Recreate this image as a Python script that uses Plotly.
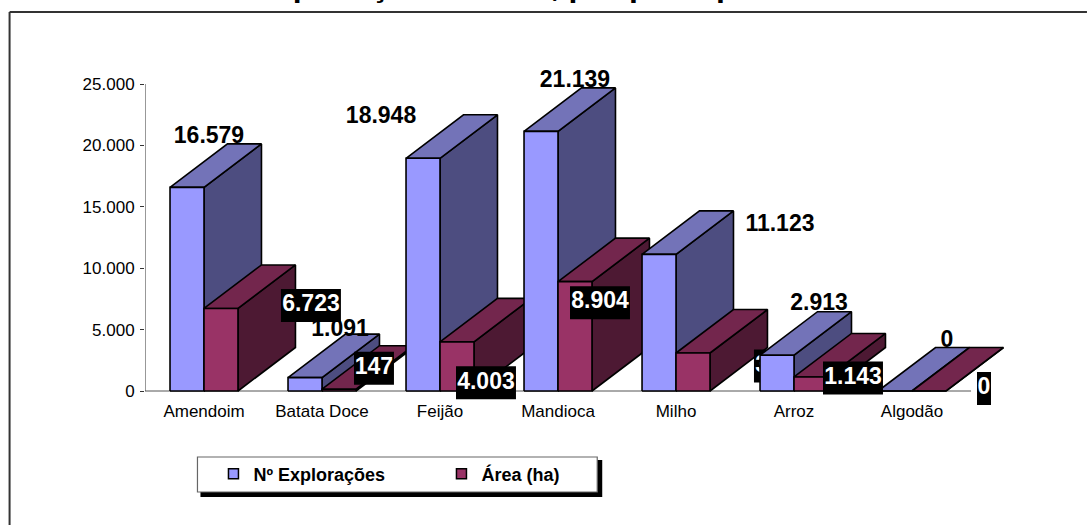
import plotly.graph_objects as go

# ---- data ----
categories = ["Amendoim", "Batata Doce", "Feijão", "Mandioca", "Milho", "Arroz", "Algodão"]
exploracoes = [16579, 1091, 18948, 21139, 11123, 2913, 0]
area_ha = [6723, 147, 4003, 8904, 3094, 1143, 0]
exploracoes_labels = ["16.579", "1.091", "18.948", "21.139", "11.123", "2.913", "0"]
area_labels = ["6.723", "147", "4.003", "8.904", "3.094", "1.143", "0"]
y_ticks = [0, 5000, 10000, 15000, 20000, 25000]
y_tick_labels = ["0", "5.000", "10.000", "15.000", "20.000", "25.000"]
series_names = ["Nº Explorações", "Área (ha)"]
title_text = "Nº Explorações e Área, por principais culturas"

# ---- layout in pixels ----
W, H = 1087, 525
AX_L, AX_R, AX_T, AX_B = 144.5, 971, 84, 391        # the visible axes
PL, PR, PT, PB = 144.5, 1015, 70, 412               # the plotting area holding every mark
X0, X1, Y0, Y1 = -0.5, 6.5, 0, 25000
PX_X = (X1 - X0) / (AX_R - AX_L)   # data units per pixel
PX_Y = (Y1 - Y0) / (AX_B - AX_T)
XMIN, XMAX = X0, X0 + (PR - PL) * PX_X
YMIN, YMAX = Y0 - (PB - AX_B) * PX_Y, Y1 + (AX_T - PT) * PX_Y

BAR_W = 34 * PX_X
DEPTH_X = 57.5 * PX_X
DEPTH_Y = 43.5 * PX_Y
OUT = "#000000"
COL_1 = dict(front="#9999FF", top="#7373B8", side="#4D4D80")
COL_2 = dict(front="#993366", top="#73264D", side="#4D1933")

# label offsets from the category centre and bar top (pixels: right, up)
OFF_1 = [(5, 50), (18, 47), (-59, 41), (17, 50), (104, 29), (25, 51), (35, 50)]
OFF_2 = [(107, 3), (52, 21), (46, -41), (42, -21), (108, -13), (59, -1), (72, 2.5)]
BOX_W = [60, 40, 60, 60, 60, 60, 14]
BOX_H = 33


def poly(xs, ys, color):
    return go.Scatter(x=xs, y=ys, mode="lines", fill="toself", fillcolor=color,
                      line=dict(color=OUT, width=1.6), hoverinfo="skip",
                      showlegend=False)


def bar(x0, v, c):
    x1 = x0 + BAR_W
    dx, dy = DEPTH_X, DEPTH_Y
    return [
        poly([x1, x1, x1 + dx, x1 + dx, x1], [0, v, v + dy, dy, 0], c["side"]),
        poly([x0, x1, x1 + dx, x0 + dx, x0], [v, v, v + dy, v + dy, v], c["top"]),
        poly([x0, x1, x1, x0, x0], [0, 0, v, v, 0], c["front"]),
    ]


def label(x, y, text, color):
    return go.Scatter(x=[x], y=[y], mode="text", text=[text], textposition="middle center",
                      textfont=dict(family="Liberation Sans", size=23, color=color, weight="bold"),
                      hoverinfo="skip", showlegend=False)


def boxed_label(i):
    ox, oy = OFF_2[i]
    cx = i + ox * PX_X
    cy = area_ha[i] + oy * PX_Y
    w, h = BOX_W[i] / 2 * PX_X, BOX_H / 2 * PX_Y
    box = go.Scatter(x=[cx - w, cx + w, cx + w, cx - w, cx - w],
                     y=[cy - h, cy - h, cy + h, cy + h, cy - h],
                     mode="lines", fill="toself", fillcolor="#000000",
                     line=dict(color="#000000", width=0), hoverinfo="skip",
                     showlegend=False)
    return [box, label(cx, cy, area_labels[i], "#FFFFFF")]


# axis lines, limited to the real value and category ranges
traces = [
    go.Scatter(x=[X0, X1], y=[Y0, Y0], mode="lines", line=dict(color="#555555", width=1),
               hoverinfo="skip", showlegend=False),
    go.Scatter(x=[X0, X0], y=[Y0, Y1], mode="lines", line=dict(color="#333333", width=1),
               hoverinfo="skip", showlegend=False),
]
for i in range(len(categories)):
    traces += bar(i - BAR_W, exploracoes[i], COL_1)
    traces += bar(i, area_ha[i], COL_2)
    if i == 4:  # this label is overdrawn by the next group's bar
        traces += boxed_label(i)

for i in range(len(categories)):
    ox, oy = OFF_1[i]
    traces.append(label(i + ox * PX_X, exploracoes[i] + oy * PX_Y,
                        exploracoes_labels[i], "#000000"))
for i in range(len(categories)):
    if i != 4:
        traces += boxed_label(i)

for name, c in zip(series_names, (COL_1, COL_2)):
    traces.append(go.Scatter(x=[None], y=[None], mode="markers", name=name,
                             marker=dict(symbol="square", size=10, color=c["front"],
                                         line=dict(color="#000000", width=1.5))))

fig = go.Figure(traces)


def fx(p):
    return (p - PL) / (PR - PL)


def fy(p):
    return (PB - p) / (PB - PT)


def rect(x0, y0, x1, y1, fill, line=None, width=0):
    return dict(type="rect", xref="paper", yref="paper", x0=fx(x0), x1=fx(x1), y0=fy(y0), y1=fy(y1),
                fillcolor=fill, line=dict(color=line or fill, width=width), layer="above")


def seg(x0, y0, x1, y1):
    return dict(type="line", xref="paper", yref="paper", x0=fx(x0), x1=fx(x1), y0=fy(y0), y1=fy(y1),
                line=dict(color="#333333", width=2), layer="below")


axis_font = dict(family="Liberation Sans", size=17, color="#000000")
fig.update_layout(
    width=W, height=H, autosize=False,
    margin=dict(l=PL, r=W - PR, t=PT, b=H - PB, pad=0),
    paper_bgcolor="#FFFFFF", plot_bgcolor="rgba(0,0,0,0)",
    xaxis=dict(range=[XMIN, XMAX], tickmode="array", tickvals=list(range(len(categories))),
               ticktext=categories, showgrid=False, zeroline=False, showline=False,
               ticks="", tickfont=axis_font, ticklabelstandoff=8, fixedrange=True,
               anchor="free", position=fy(AX_B)),
    yaxis=dict(range=[YMIN, YMAX], tickmode="array", tickvals=y_ticks, ticktext=y_tick_labels,
               showgrid=False, zeroline=False, showline=False,
               ticks="outside", ticklen=4, tickcolor="#333333", tickfont=axis_font,
               ticklabelstandoff=2, fixedrange=True),
    legend=dict(orientation="h", x=fx(213), y=fy(474), xanchor="left", yanchor="middle",
                bgcolor="rgba(0,0,0,0)", borderwidth=0, entrywidth=183, entrywidthmode="pixels",
                font=dict(family="Liberation Sans", size=18, color="#000000", weight="bold")),
    shapes=[
        seg(9, 12, W, 12),
        seg(9, 12, 9, H),
        rect(200, 460, 602, 497, "#000000"),
        rect(197, 457, 597, 492, "#FFFFFF", "#666666", 1.2),
    ],
    annotations=[dict(text=title_text, xref="paper", yref="paper", x=fx(561), y=fy(-15.5),
                      xanchor="center", yanchor="middle", showarrow=False,
                      font=dict(family="Liberation Sans", size=32, color="#000000", weight="bold"))],
)

fig.write_html("out.html", config=dict(displayModeBar=False),
               post_script="document.body.style.margin='0';document.body.style.overflow='hidden';")
